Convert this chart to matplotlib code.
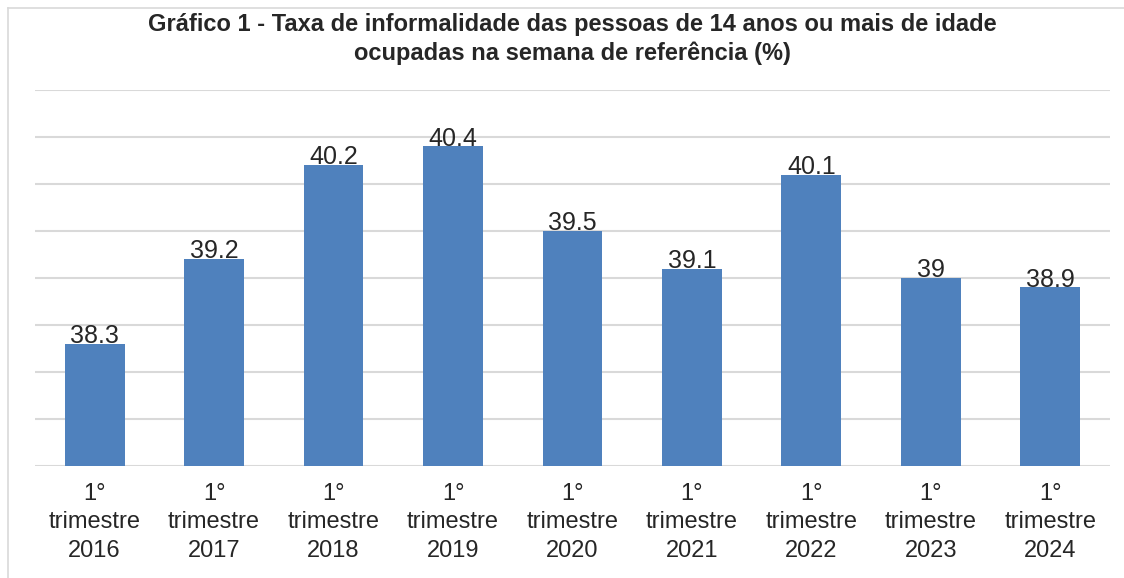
import matplotlib.pyplot as plt
from matplotlib.lines import Line2D

# Data
periods = ['2016', '2017', '2018', '2019', '2020', '2021', '2022', '2023', '2024']
tick_labels = ['1°\ntrimestre\n' + p for p in periods]
values = [38.3, 39.2, 40.2, 40.4, 39.5, 39.1, 40.1, 39.0, 38.9]
value_labels = ['38.3', '39.2', '40.2', '40.4', '39.5', '39.1', '40.1', '39', '38.9']

plt.rcParams['font.family'] = ['Liberation Sans', 'DejaVu Sans']

fig = plt.figure(figsize=(11.24, 5.78), dpi=100)
ax = fig.add_axes([0.0311, 0.1938, 0.9564, 0.6505])

x = range(len(values))
bars = ax.bar(x, values, width=0.5, color='#4f81bd', zorder=3)

ax.set_xlim(-0.5, len(values) - 0.5)
ax.set_ylim(37, 41)
ax.set_yticks([37 + 0.5 * i for i in range(9)])
ax.yaxis.grid(True, color='#d9d9d9', linewidth=1.5, zorder=0)
ax.tick_params(axis='y', length=0, labelleft=False)
ax.tick_params(axis='x', length=0, pad=12, labelsize=17, colors='#262626')
ax.set_xticks(list(x))
ax.set_xticklabels(tick_labels, linespacing=1.4)
for s in ax.spines.values():
    s.set_visible(False)

for b, lab in zip(bars, value_labels):
    ax.annotate(lab, (b.get_x() + b.get_width() / 2, b.get_height()),
                xytext=(0, -3), textcoords='offset points',
                ha='center', va='bottom', fontsize=18, color='#262626')

fig.text(0.509, 0.978, 'Gráfico 1 - Taxa de informalidade das pessoas de 14 anos ou mais de idade\n'
         'ocupadas na semana de referência (%)',
         ha='center', va='top', fontsize=17, fontweight='bold', color='#262626',
         linespacing=1.3)

# light frame around the chart area
fig.add_artist(Line2D([8 / 1124, 1], [1 - 8 / 578, 1 - 8 / 578], color='#d9d9d9', lw=1.2))
fig.add_artist(Line2D([8 / 1124, 8 / 1124], [0, 1 - 8 / 578], color='#d9d9d9', lw=1.2))

fig.savefig('out.png', dpi=100, facecolor='white')
